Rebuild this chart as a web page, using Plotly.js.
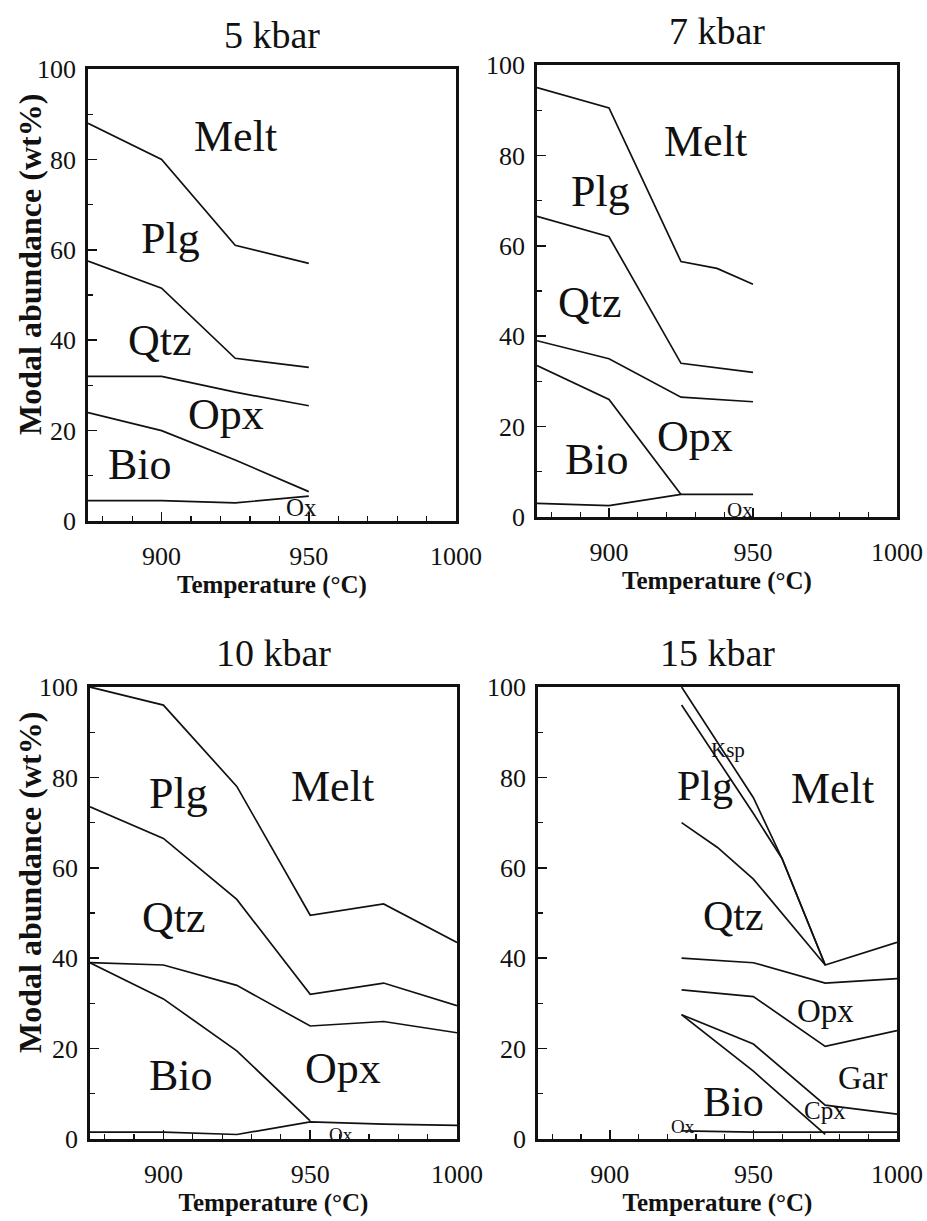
<!DOCTYPE html>
<html>
<head>
<meta charset="utf-8">
<script src="https://cdn.plot.ly/plotly-3.0.1.min.js"></script>
<style>
html,body{margin:0;padding:0;background:#fff;}
#chart{width:927px;height:1221px;}
</style>
</head>
<body>
<div id="chart"></div>
<script>
// ---------- DATA ----------
// 5 kbar
const T5 = [875, 900, 925, 950];
const melt5 = [88, 80, 61, 57];
const qtz5 = [57.5, 51.5, 36, 34];
const opx5 = [32, 32, 28.5, 25.5];
const bio5 = [24, 20, 13.5, 6.5];
const ox5 = [4.5, 4.5, 4, 5.5];
const labels5 = ['Melt', 'Plg', 'Qtz', 'Opx', 'Bio', 'Ox'];
const labelT5 = [925, 903, 899.5, 922, 892.5, 947.5];
const labelV5 = [85, 62.5, 40, 23.5, 12.5, 3];

// 7 kbar
const T7 = [875, 900, 925, 950];
const T7melt = [875, 900, 925, 937.5, 950];
const melt7 = [95, 90.5, 56.5, 55, 51.5];
const qtz7 = [66.5, 62, 34, 32];
const opx7 = [39, 35, 26.5, 25.5];
const T7bio = [875, 900, 925];
const bio7 = [33.5, 26, 5];
const ox7 = [3, 2.5, 5, 5];
const labels7 = ['Melt', 'Plg', 'Qtz', 'Opx', 'Bio', 'Ox'];
const labelT7 = [933.5, 897, 893.5, 930, 896, 945.5];
const labelV7 = [83, 72, 47.5, 17.8, 12.8, 1.5];

// 10 kbar
const T10 = [875, 900, 925, 950, 975, 1000];
const melt10 = [100, 96, 78, 49.5, 52, 43.5];
const qtz10 = [73.5, 66.5, 53, 32, 34.5, 29.5];
const opx10 = [39, 38.5, 34, 25, 26, 23.5];
const T10bio = [875, 900, 925, 950];
const bio10 = [39, 31, 19.5, 4];
const ox10 = [1.5, 1.5, 1, 3.8, 3.3, 3];
const labels10 = ['Melt', 'Plg', 'Qtz', 'Opx', 'Bio', 'Ox'];
const labelT10 = [957.5, 905, 903.5, 961, 906, 960.5];
const labelV10 = [78, 76.5, 49, 15.5, 14, 1];

// 15 kbar
const T15 = [925, 950, 975, 1000];
const T15melt = [925, 950, 960, 975, 1000];
const melt15 = [100, 75.5, 62, 38.5, 43.5];
const T15ksp = [925, 950, 960, 975];
const ksp15 = [96, 72, 62, 38.5];
const T15qtz = [925, 937.5, 950, 975];
const qtz15 = [70, 64.5, 57.5, 38.5];
const opx15 = [40, 39, 34.5, 35.5];
const gar15 = [33, 31.5, 20.5, 24];
const cpx15 = [27.5, 21, 7.5, 5.5];
const T15bio = [925, 950, 975];
const bio15 = [27.5, 15, 1];
const ox15 = [1.8, 1.5, 1.5, 1.5];
const labels15 = ['Ksp', 'Plg', 'Melt', 'Qtz', 'Opx', 'Gar', 'Bio', 'Cpx', 'Ox'];
const labelT15 = [941, 933, 977.5, 943, 975, 988, 943, 975, 925.5];
const labelV15 = [86, 78, 77.5, 49.3, 28.4, 13.5, 8.2, 6.2, 2.7];

const panelTitles = ['5 kbar', '7 kbar', '10 kbar', '15 kbar'];
const xTitle = 'Temperature (°C)';
const yTitle = 'Modal abundance (wt%)';
const xTicks = [900, 950, 1000];
const yTicks = [0, 20, 40, 60, 80, 100];

// ---------- STYLE ----------
const FONT = "'Liberation Serif', Tinos, 'Times New Roman', Times, serif";

function line(x, y, n) {
  const s = n === 1 ? '' : String(n);
  return {
    type: 'scatter', mode: 'lines', x: x, y: y,
    xaxis: 'x' + s, yaxis: 'y' + s,
    line: {color: '#111', width: 1.7},
    hoverinfo: 'skip', showlegend: false
  };
}

const data = [
  line(T5, melt5, 1), line(T5, qtz5, 1), line(T5, opx5, 1), line(T5, bio5, 1), line(T5, ox5, 1),
  line(T7melt, melt7, 2), line(T7, qtz7, 2), line(T7, opx7, 2), line(T7bio, bio7, 2), line(T7, ox7, 2),
  line(T10, melt10, 3), line(T10, qtz10, 3), line(T10, opx10, 3), line(T10bio, bio10, 3), line(T10, ox10, 3),
  line(T15melt, melt15, 4), line(T15ksp, ksp15, 4), line(T15qtz, qtz15, 4), line(T15, opx15, 4),
  line(T15, gar15, 4), line(T15, cpx15, 4), line(T15bio, bio15, 4), line(T15, ox15, 4)
];

const W = 927, H = 1221;
// plot-area pixel boxes [left, right, top, bottom]
const boxes = [[88, 456, 69, 521], [537, 897, 65, 517], [90, 457, 687, 1139], [538, 897, 687, 1139]];

const layout = {
  width: W, height: H,
  margin: {l: 0, r: 0, t: 0, b: 0},
  paper_bgcolor: '#fff', plot_bgcolor: '#fff',
  font: {family: FONT, color: '#111'},
  showlegend: false,
  annotations: []
};

boxes.forEach((b, i) => {
  const s = i === 0 ? '' : String(i + 1);
  layout['xaxis' + s] = {
    domain: [b[0] / W, b[1] / W], anchor: 'y' + s,
    range: [875, 1000], tickmode: 'array', tickvals: xTicks,
    ticks: 'inside', ticklen: 9, tickwidth: 1.5, tickcolor: '#111',
    minor: {tickmode: 'array', tickvals: [880, 890, 910, 920, 930, 940, 960, 970, 980, 990], ticks: 'inside', ticklen: 5, tickwidth: 1.2, tickcolor: '#111'},
    showline: true, mirror: true, linewidth: 2.8, linecolor: '#111',
    showgrid: false, zeroline: false,
    tickfont: {family: FONT, size: 26, color: '#111'},
    ticklabelstandoff: 10,
    title: {text: xTitle, font: {family: FONT, size: 25, weight: 'bold', color: '#111'}, standoff: 6},
    fixedrange: true
  };
  layout['yaxis' + s] = {
    domain: [1 - b[3] / H, 1 - b[2] / H], anchor: 'x' + s,
    range: [0, 100], tickmode: 'array', tickvals: yTicks,
    ticks: 'inside', ticklen: 9, tickwidth: 1.5, tickcolor: '#111',
    minor: {tickmode: 'array', tickvals: [10, 30, 50, 70, 90], ticks: 'inside', ticklen: 5, tickwidth: 1.2, tickcolor: '#111'},
    showline: true, mirror: true, linewidth: 2.8, linecolor: '#111',
    showgrid: false, zeroline: false,
    tickfont: {family: FONT, size: 26, color: '#111'},
    ticklabelstandoff: 4,
    fixedrange: true
  };
  // panel title
  layout.annotations.push({
    xref: 'paper', yref: 'paper',
    x: (b[0] + b[1]) / 2 / W, y: 1 - (b[2] - 34) / H,
    text: panelTitles[i], showarrow: false,
    font: {family: FONT, size: 38, color: '#111'},
    xanchor: 'center', yanchor: 'middle'
  });
});

// y-axis titles (left panels only)
[[30, 265], [30, 883]].forEach(p => {
  layout.annotations.push({
    xref: 'paper', yref: 'paper', x: p[0] / W, y: 1 - p[1] / H,
    text: yTitle, showarrow: false, textangle: -90,
    font: {family: FONT, size: 32, weight: 'bold', color: '#111'},
    xanchor: 'center', yanchor: 'middle'
  });
});

function addLabels(labels, ts, vs, n, sizes) {
  const s = n === 1 ? '' : String(n);
  labels.forEach((t, i) => {
    layout.annotations.push({
      xref: 'x' + s, yref: 'y' + s, x: ts[i], y: vs[i],
      text: t, showarrow: false,
      font: {family: FONT, size: sizes[i], color: '#111'},
      xanchor: 'center', yanchor: 'middle'
    });
  });
}
addLabels(labels5, labelT5, labelV5, 1, [44, 44, 44, 44, 44, 25]);
addLabels(labels7, labelT7, labelV7, 2, [44, 44, 44, 44, 44, 21]);
addLabels(labels10, labelT10, labelV10, 3, [44, 44, 44, 44, 44, 19]);
addLabels(labels15, labelT15, labelV15, 4, [21, 42, 44, 42, 33, 33, 42, 25, 19]);

Plotly.newPlot('chart', data, layout, {staticPlot: true, displayModeBar: false});
</script>
</body>
</html>
